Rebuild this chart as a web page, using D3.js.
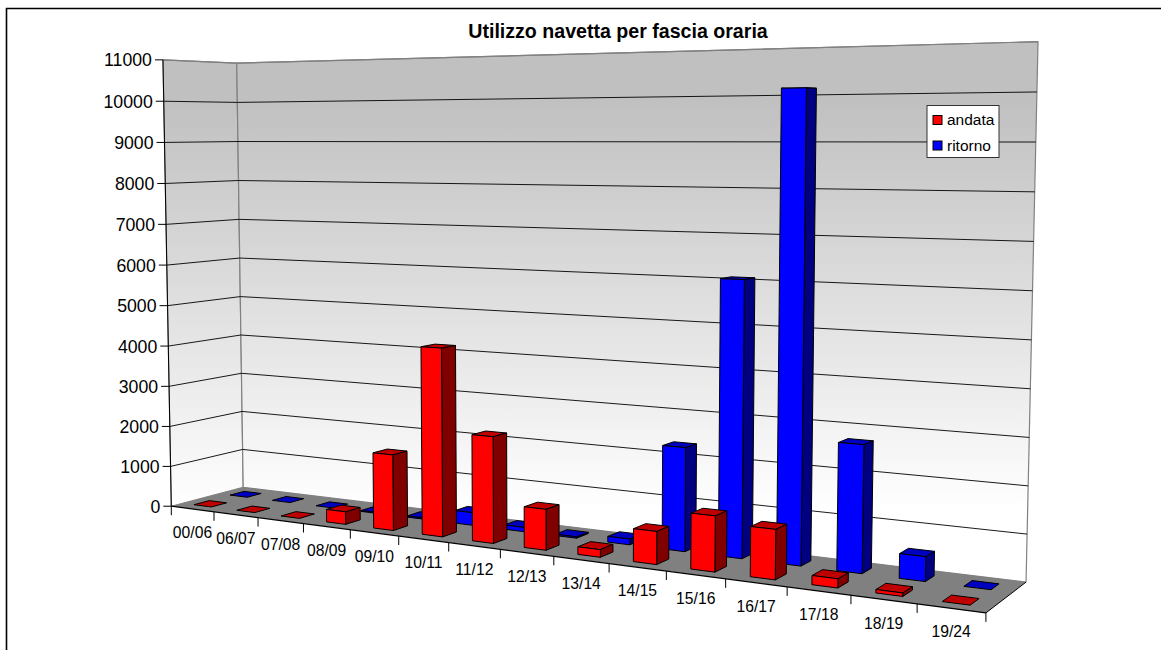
<!DOCTYPE html>
<html>
<head>
<meta charset="utf-8">
<script src="https://cdn.jsdelivr.net/npm/d3@7"></script>
<style>
body { margin: 0; background: #fff; }
text { font-family: "Liberation Sans", Arial, sans-serif; fill: #000; }
</style>
</head>
<body>
<div id="chart"></div>
<script>
var categories = ["00/06", "06/07", "07/08", "08/09", "09/10", "10/11", "11/12", "12/13", "13/14", "14/15", "15/16", "16/17", "17/18", "18/19", "19/24"];
var andata  = [0, 0, 0, 300, 1780, 4350, 2430, 920, 170, 720, 1200, 1060, 190, 70, 0];
var ritorno = [0, 0, 0, 20, 30, 300, 100, 30, 130, 2320, 6070, 10130, 2730, 520, 0];
var valueTicks = d3.range(0, 12000, 1000);

var width = 1161, height = 650;

var svg = d3.select("#chart").append("svg")
    .attr("width", width)
    .attr("height", height)
    .style("display", "block");

// corners of the box: [u, v, w] -> [px, py]
var corners = [
    [[0, 0, 0], [171.5, 506]],
    [[1, 0, 0], [986, 613]],
    [[0, 0, 1], [243, 487.5]],
    [[1, 0, 1], [1026, 582]],
    [[0, 1, 0], [162.7, 60]],
    [[0, 1, 1], [237, 63]],
    [[1, 1, 1], [1038, 41.7]]
];

// least squares fit of the 3d -> 2d perspective camera
function fitCamera(pts) {
    var rows = [], rhs = [];
    pts.forEach(function(p) {
        var u = p[0][0], v = p[0][1], w = p[0][2], x = p[1][0], y = p[1][1];
        rows.push([u, v, w, 1, 0, 0, 0, 0, -x * u, -x * v, -x * w]); rhs.push(x);
        rows.push([0, 0, 0, 0, u, v, w, 1, -y * u, -y * v, -y * w]); rhs.push(y);
    });
    var n = 11, A = [];
    for (var i = 0; i < n; i++) {
        A.push([]);
        for (var j = 0; j < n; j++) A[i].push(d3.sum(rows, function(r) { return r[i] * r[j]; }));
        A[i].push(d3.sum(rows, function(r, k) { return r[i] * rhs[k]; }));
    }
    for (var c = 0; c < n; c++) {
        var best = c;
        for (var r = c + 1; r < n; r++) if (Math.abs(A[r][c]) > Math.abs(A[best][c])) best = r;
        var tmp = A[c]; A[c] = A[best]; A[best] = tmp;
        for (var r2 = 0; r2 < n; r2++) {
            if (r2 === c) continue;
            var f = A[r2][c] / A[c][c];
            for (var k = c; k <= n; k++) A[r2][k] -= f * A[c][k];
        }
    }
    return A.map(function(row, i) { return row[n] / row[i]; });
}

var cam = fitCamera(corners);
function project(u, v, w) {
    var d = cam[8] * u + cam[9] * v + cam[10] * w + 1;
    return [(cam[0] * u + cam[1] * v + cam[2] * w + cam[3]) / d,
            (cam[4] * u + cam[5] * v + cam[6] * w + cam[7]) / d];
}

var xScale = d3.scaleBand().domain(categories).range([0, 1]).paddingInner(0).paddingOuter(0);
var yScale = d3.scaleLinear().domain([0, 11000]).range([0, 1]);

var line = d3.line();
function poly(pts, fill, stroke, sw) {
    return svg.append("path")
        .attr("d", line(pts) + "Z")
        .attr("fill", fill)
        .attr("stroke", stroke || "none")
        .attr("stroke-width", sw || 1)
        .attr("stroke-linejoin", "round");
}
function seg(a, b, stroke, sw) {
    return svg.append("line")
        .attr("x1", a[0]).attr("y1", a[1])
        .attr("x2", b[0]).attr("y2", b[1])
        .attr("stroke", stroke)
        .attr("stroke-width", sw || 1);
}

// outer frame, only top and left show
svg.append("path")
    .attr("d", "M6.5,650V8.5H1161")
    .attr("fill", "none")
    .attr("stroke", "#000")
    .attr("stroke-width", 1.6);

var grad = svg.append("defs").append("linearGradient")
    .attr("id", "wall")
    .attr("gradientUnits", "userSpaceOnUse")
    .attr("x1", 0).attr("x2", 0)
    .attr("y1", 100).attr("y2", 510);
grad.append("stop").attr("offset", 0).attr("stop-color", "#c0c0c0");
grad.append("stop").attr("offset", 1).attr("stop-color", "#ffffff");

// walls and floor
poly([project(0, 0, 0), project(0, 1, 0), project(0, 1, 1), project(0, 0, 1)], "url(#wall)", "#808080", 1.2);
poly([project(0, 0, 1), project(0, 1, 1), project(1, 1, 1), project(1, 0, 1)], "url(#wall)", "#808080", 1.2);
poly([project(0, 0, 0), project(1, 0, 0), project(1, 0, 1), project(0, 0, 1)], "#808080");

// gridlines on both walls
valueTicks.slice(1).forEach(function(t) {
    var v = yScale(t);
    var col = t === 11000 ? "#808080" : "#000";
    seg(project(0, v, 0), project(0, v, 1), col, t === 11000 ? 1.2 : 0.9);
    seg(project(0, v, 1), project(1, v, 1), col, t === 11000 ? 1.2 : 0.9);
});

// axes
seg(project(0, 0, 0), project(0, 1, 0), "#000");
seg(project(0, 0, 0), project(1, 0, 0), "#000", 1.2);
seg(project(1, 0, 0), project(1, 0, 1), "#000", 1);

valueTicks.forEach(function(t) {
    var p = project(0, yScale(t), 0);
    seg([p[0] - 8, p[1]], p, "#000");
    svg.append("text")
        .attr("x", p[0] - 11)
        .attr("y", p[1] + 6.5)
        .attr("text-anchor", "end")
        .attr("font-size", 17.7)
        .text(t);
});

var ticksU = categories.map(function(c) { return xScale(c); }).concat([1]);
ticksU.forEach(function(u) {
    var p = project(u, 0, 0);
    seg(p, [p[0], p[1] + 9], "#000");
});

categories.forEach(function(c) {
    var u = xScale(c) + xScale.bandwidth() / 2;
    var p = project(u, 0, 0);
    svg.append("text")
        .attr("x", p[0])
        .attr("y", p[1] + 29)
        .attr("text-anchor", "middle")
        .attr("font-size", 15.7)
        .text(c);
});

// one bar: front, side and top faces
function bar(u0, u1, w0, w1, value, colors) {
    var v = yScale(value);
    poly([project(u0, v, w0), project(u1, v, w0), project(u1, v, w1), project(u0, v, w1)], colors.top, "#000");
    if (value > 0) {
        poly([project(u1, 0, w0), project(u1, v, w0), project(u1, v, w1), project(u1, 0, w1)], colors.side, "#000");
        poly([project(u0, 0, w0), project(u1, 0, w0), project(u1, v, w0), project(u0, v, w0)], colors.front, "#000");
    }
}

var bw = xScale.bandwidth();
var barFrac = 0.41;
var redFaces = { front: "#ff0000", side: "#800000", top: "#c00000" };
var blueFaces = { front: "#0000ff", side: "#000080", top: "#0000c0" };

// back row first so the front row paints over it
ritorno.forEach(function(d, i) {
    var u = xScale(categories[i]) + bw * (1 - barFrac) / 2 - bw * 0.025;
    bar(u, u + bw * barFrac, 0.65, 0.85, d, blueFaces);
});
andata.forEach(function(d, i) {
    var u = xScale(categories[i]) + bw * (1 - barFrac) / 2 - bw * 0.025;
    bar(u, u + bw * barFrac, 0.15, 0.36, d, redFaces);
});

svg.append("text")
    .attr("x", 618)
    .attr("y", 38)
    .attr("text-anchor", "middle")
    .attr("font-size", 19.6)
    .attr("font-weight", "bold")
    .text("Utilizzo navetta per fascia oraria");

// legend
var legend = svg.append("g");
legend.append("rect")
    .attr("x", 927).attr("y", 105.5)
    .attr("width", 72).attr("height", 52)
    .attr("fill", "#fff").attr("stroke", "#333");
[["andata", "#ff0000", 120], ["ritorno", "#0000ff", 145.5]].forEach(function(d) {
    legend.append("rect")
        .attr("x", 933).attr("y", d[2] - 4.5)
        .attr("width", 9).attr("height", 9)
        .attr("fill", d[1]).attr("stroke", "#000");
    legend.append("text")
        .attr("x", 947).attr("y", d[2] + 5)
        .attr("font-size", 15.5)
        .text(d[0]);
});
</script>
</body>
</html>
